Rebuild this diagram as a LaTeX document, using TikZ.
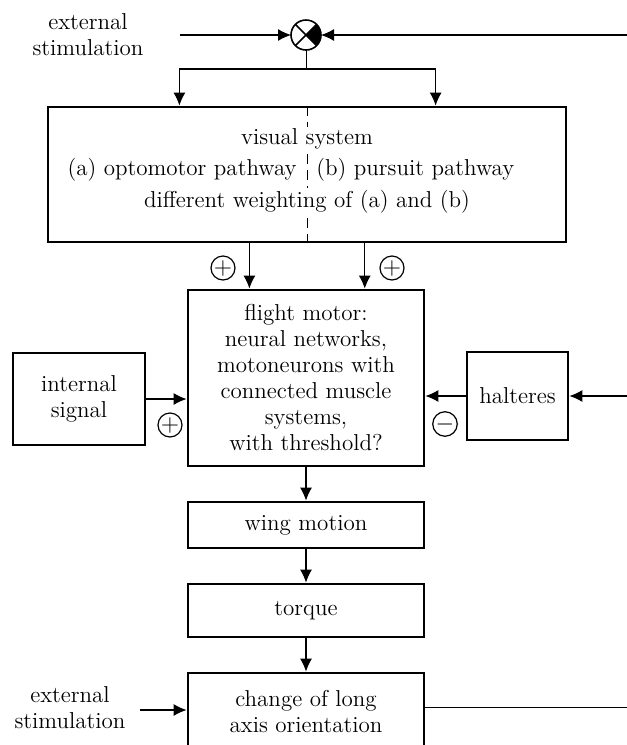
\documentclass[tikz,border=0pt]{standalone}
\usepackage{amsmath}
\usepackage{tikz}
\usetikzlibrary{arrows.meta,calc,positioning,shapes}
\tikzstyle{block} = [draw, line width=1.4pt, inner sep=2pt, align=center, minimum width=118pt]
\tikzstyle{pfeil} = [-{Latex[length=6.5pt,width=6pt]}, semithick]
\tikzstyle{zeichen} = [draw, circle, semithick, inner sep=0pt, minimum size=12pt]
\tikzstyle{maske} = [fill=white, inner sep=1pt]

\begin{document}
\begin{tikzpicture}[x=0.5pt, y=-0.5pt, font=\fontsize{11.5}{13}\selectfont]
	\useasboundingbox (0,0) rectangle (627,745);
	\clip (0,0) rectangle (627,745);

	% Vergleichsstelle oben
	\node[draw, circle, thick, minimum size=15pt, inner sep=0pt, outer sep=0pt] (sum) at (306,35) {};
	\fill (sum.center) -- (sum.north east) arc[start angle=45, end angle=-45, radius=7.5pt] -- cycle;
	\draw[thick] (sum.north west) -- (sum.south east) (sum.south west) -- (sum.north east);
	\node[align=center] (ext1) at (88,35) {external\\stimulation};
	\coordinate (extL) at (180,35);
	\coordinate (rueckO) at (627,35);
	\draw[pfeil] (extL) -- (sum);
	\draw[pfeil] (rueckO) -- (sum);

	% visuelles System
	\node[block, minimum width=259pt, minimum height=67.5pt] (visual) at (307,174.5) {};
	\draw[dashed, thin, dash pattern=on 5pt off 3pt] (visual.north) -- (visual.south);
	\node[maske] (vis) at (307,139) {visual system};
	\node[maske, anchor=east] (opto) at (299,170) {(a) optomotor pathway};
	\node[maske, anchor=west] (purs) at (314,170) {(b) pursuit pathway};
	\node[maske] (gew) at (307,202) {different weighting of (a) and (b)};
	\coordinate (split) at ($(sum.south)+(0,19)$);
	\coordinate (va) at ($(visual.north west)!0.255!(visual.north east)$);
	\coordinate (vb) at ($(visual.north west)!0.747!(visual.north east)$);
	\draw (sum.south) -- (split);
	\draw[pfeil] (split) -| (va);
	\draw[pfeil] (split) -| (vb);

	% Flugmotor
	\node[block, minimum height=88pt] (flight) at (306,378)
		{flight motor:\\neural networks,\\motoneurons with\\connected muscle\\systems,\\with threshold?};
	\coordinate (fa) at ($(flight.north west)!0.263!(flight.north east)$);
	\coordinate (fb) at ($(flight.north west)!0.746!(flight.north east)$);
	\draw[pfeil] (visual.south -| fa) -- (fa);
	\draw[pfeil] (visual.south -| fb) -- (fb);
	\node[zeichen] (plusA) at (223,268) {$+$};
	\node[zeichen] (plusB) at (392,268) {$+$};

	% interne Signale und Halteren
	\node[block, minimum width=66pt, minimum height=46pt] (intern) at (79,399) {internal\\signal};
	\node[block, minimum width=50.5pt, minimum height=44pt] (halt) at (517.5,396) {halteres};
	\draw[pfeil] (intern) -- (intern -| flight.west);
	\draw[pfeil] (halt) -- (halt -| flight.east);
	\coordinate (rueckM) at (627,396);
	\draw[pfeil] (rueckM) -- (halt);
	\node[zeichen] (plusC) at (170,425) {$+$};
	\node[zeichen] (minus) at (445,424) {$-$};

	% Fluegel, Drehmoment, Orientierung
	\node[block, minimum height=23pt] (wing) at (306,525) {wing motion};
	\node[block, minimum height=26.5pt] (torque) at (306,610.5) {torque};
	\node[block, minimum height=58.5pt] (change) at (306,731.5) {};
	\node[align=center] (chtext) at (306,712) {change of long\\axis orientation};
	\draw[pfeil] (flight) -- (wing);
	\draw[pfeil] (wing) -- (torque);
	\draw[pfeil] (torque) -- (change);
	\node[align=center] (ext2) at (70,708) {external\\stimulation};
	\coordinate (extU) at (140,710);
	\draw[pfeil] (extU) -- (extU -| change.west);
	\coordinate (rueckU) at (627,707);
	\draw (rueckU -| change.east) -- (rueckU);
\end{tikzpicture}
\end{document}
